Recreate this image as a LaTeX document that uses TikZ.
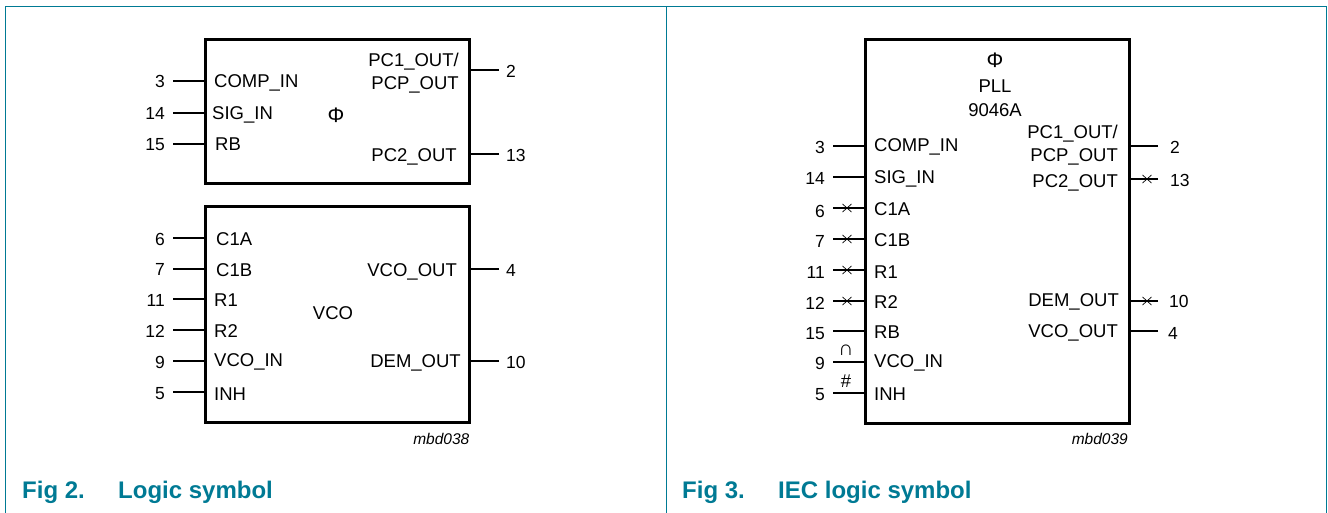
\documentclass[tikz,border=0pt]{standalone}
\usepackage{fontspec}
\setmainfont{Liberation Sans}
\usetikzlibrary{shapes.misc}
\definecolor{figteal}{RGB}{0,122,148}
\tikzset{
  chipbox/.style={draw=black, line width=3pt},
  wire/.style={draw=black, line width=1.2pt},
  framerule/.style={draw=figteal, line width=1.3pt},
  crossmark/.style={cross out, draw=black, line width=.7pt, minimum width=9pt, minimum height=8pt, inner sep=0pt, outer sep=0pt},
  pinnum/.style={font=\fontsize{17.5}{20}\selectfont, inner sep=0pt, text height=12.5pt, text depth=0pt},
  pinname/.style={font=\fontsize{18.5}{20}\selectfont, inner sep=0pt, text height=13pt, text depth=0pt},
  bigsym/.style={font=\fontsize{21}{22}\selectfont, inner sep=0pt},
  tagname/.style={font=\fontsize{15.5}{17}\selectfont\itshape, inner sep=0pt, anchor=east},
  captext/.style={font=\fontsize{24}{26}\selectfont\bfseries, text=figteal, inner sep=0pt, anchor=west, text height=16pt, text depth=0pt}
}
\begin{document}
\begin{tikzpicture}[x=1pt, y=-1pt]
    \useasboundingbox (0,0) rectangle (1328,513);

    % outer frame
    \coordinate (frameA) at (5.5,513);
    \coordinate (frameB) at (5.5,6.5);
    \coordinate (frameC) at (1326.5,6.5);
    \coordinate (frameD) at (1326.5,513);
    \coordinate (frameM) at (666.5,6.5);
    \coordinate (frameN) at (666.5,513);
    \draw[framerule] (frameA) -- (frameB) -- (frameC) -- (frameD);
    \draw[framerule] (frameM) -- (frameN);

    % logic symbol, phase comparator
    \node[chipbox, minimum width=264pt, minimum height=144pt, anchor=north west, outer sep=0pt] (pcbox) at (205,40) {};
    \coordinate (la3) at (173,81);
    \coordinate (la14) at (173,113);
    \coordinate (la15) at (173,144);
    \coordinate (ra2) at (499,70);
    \coordinate (ra13) at (499,154);
    \draw[wire] (la3) -- (la3 -| pcbox.west);
    \draw[wire] (la14) -- (la14 -| pcbox.west);
    \draw[wire] (la15) -- (la15 -| pcbox.west);
    \draw[wire] (ra2) -- (ra2 -| pcbox.east);
    \draw[wire] (ra13) -- (ra13 -| pcbox.east);
    \node[pinnum, anchor=east] (na3) at (165,81) {3};
    \node[pinnum, anchor=east] (na14) at (165,113) {14};
    \node[pinnum, anchor=east] (na15) at (165,144) {15};
    \node[pinnum, anchor=west] (na2) at (506,71) {2};
    \node[pinnum, anchor=west] (na13) at (506,155) {13};
    \node[pinname, anchor=west] (ta3) at (214,81) {COMP\_IN};
    \node[pinname, anchor=west] (ta14) at (212,113) {SIG\_IN};
    \node[pinname, anchor=west] (ta15) at (215,144) {RB};
    \node[pinname, anchor=east] (ta2) at (459,60) {PC1\_OUT/};
    \node[pinname, anchor=east] (tb2) at (459,83) {PCP\_OUT};
    \node[pinname, anchor=east] (ta13) at (457,155) {PC2\_OUT};
    \node[bigsym] (phiA) at (336,115) {Φ};

    % logic symbol, oscillator
    \node[chipbox, minimum width=264pt, minimum height=215.5pt, anchor=north west, outer sep=0pt] (vcobox) at (205,207) {};
    \coordinate (la6) at (173,238);
    \coordinate (la7) at (173,269);
    \coordinate (la11) at (173,299);
    \coordinate (la12) at (173,330);
    \coordinate (la9) at (173,361);
    \coordinate (la5) at (173,392);
    \coordinate (ra4) at (499,269);
    \coordinate (ra10) at (499,361);
    \draw[wire] (la6) -- (la6 -| vcobox.west);
    \draw[wire] (la7) -- (la7 -| vcobox.west);
    \draw[wire] (la11) -- (la11 -| vcobox.west);
    \draw[wire] (la12) -- (la12 -| vcobox.west);
    \draw[wire] (la9) -- (la9 -| vcobox.west);
    \draw[wire] (la5) -- (la5 -| vcobox.west);
    \draw[wire] (ra4) -- (ra4 -| vcobox.east);
    \draw[wire] (ra10) -- (ra10 -| vcobox.east);
    \node[pinnum, anchor=east] (na6) at (165,239) {6};
    \node[pinnum, anchor=east] (na7) at (165,269) {7};
    \node[pinnum, anchor=east] (na11) at (165,300) {11};
    \node[pinnum, anchor=east] (na12) at (165,331) {12};
    \node[pinnum, anchor=east] (na9) at (165,362) {9};
    \node[pinnum, anchor=east] (na5) at (165,393) {5};
    \node[pinnum, anchor=west] (na4) at (506,270) {4};
    \node[pinnum, anchor=west] (na10) at (506,362) {10};
    \node[pinname, anchor=west] (ta6) at (216,239) {C1A};
    \node[pinname, anchor=west] (ta7) at (216,270) {C1B};
    \node[pinname, anchor=west] (ta11) at (214,300) {R1};
    \node[pinname, anchor=west] (ta12) at (214,331) {R2};
    \node[pinname, anchor=west] (ta9) at (214,360) {VCO\_IN};
    \node[pinname, anchor=west] (ta5) at (214,394) {INH};
    \node[pinname, anchor=east] (ta4) at (457,270) {VCO\_OUT};
    \node[pinname, anchor=east] (ta10) at (461,361) {DEM\_OUT};
    \node[pinname] (vcoA) at (333,313) {VCO};
    \node[tagname] (tagA) at (469.5,439) {mbd038};
    \node[captext] (figA) at (22,490) {Fig 2.};
    \node[captext] (capA) at (118,490) {Logic symbol};

    % IEC symbol
    \node[chipbox, minimum width=264pt, minimum height=383pt, anchor=north west, outer sep=0pt] (iecbox) at (865,40) {};
    \coordinate (lb3) at (833,146);
    \coordinate (lb14) at (833,177);
    \coordinate (lb6) at (833,208);
    \coordinate (lb7) at (833,239);
    \coordinate (lb11) at (833,270);
    \coordinate (lb12) at (833,301);
    \coordinate (lb15) at (833,331);
    \coordinate (lb9) at (833,362);
    \coordinate (lb5) at (833,393);
    \coordinate (rb2) at (1158,146);
    \coordinate (rb13) at (1158,179);
    \coordinate (rb10) at (1158,301);
    \coordinate (rb4) at (1158,331);
    \draw[wire] (lb3) -- (lb3 -| iecbox.west);
    \draw[wire] (lb14) -- (lb14 -| iecbox.west);
    \draw[wire] (lb6) -- (lb6 -| iecbox.west);
    \draw[wire] (lb7) -- (lb7 -| iecbox.west);
    \draw[wire] (lb11) -- (lb11 -| iecbox.west);
    \draw[wire] (lb12) -- (lb12 -| iecbox.west);
    \draw[wire] (lb15) -- (lb15 -| iecbox.west);
    \draw[wire] (lb9) -- (lb9 -| iecbox.west);
    \draw[wire] (lb5) -- (lb5 -| iecbox.west);
    \draw[wire] (rb2) -- (rb2 -| iecbox.east);
    \draw[wire] (rb13) -- (rb13 -| iecbox.east);
    \draw[wire] (rb10) -- (rb10 -| iecbox.east);
    \draw[wire] (rb4) -- (rb4 -| iecbox.east);
    \node[crossmark] (xb6) at (847,208) {};
    \node[crossmark] (xb7) at (847,239) {};
    \node[crossmark] (xb11) at (847,270) {};
    \node[crossmark] (xb12) at (847,301) {};
    \node[crossmark] (xb13) at (1147,179) {};
    \node[crossmark] (xb10) at (1147,301) {};
    \node[bigsym] (capsym) at (846,350) {∩};
    \node[pinname] (hashsym) at (846,381) {\#};
    \node[pinnum, anchor=east] (nb3) at (825,147) {3};
    \node[pinnum, anchor=east] (nb14) at (825,178) {14};
    \node[pinnum, anchor=east] (nb6) at (825,211) {6};
    \node[pinnum, anchor=east] (nb7) at (825,241) {7};
    \node[pinnum, anchor=east] (nb11) at (825,272) {11};
    \node[pinnum, anchor=east] (nb12) at (825,303) {12};
    \node[pinnum, anchor=east] (nb15) at (825,333) {15};
    \node[pinnum, anchor=east] (nb9) at (825,363) {9};
    \node[pinnum, anchor=east] (nb5) at (825,394) {5};
    \node[pinnum, anchor=west] (nb2) at (1170,147) {2};
    \node[pinnum, anchor=west] (nb13) at (1170,180) {13};
    \node[pinnum, anchor=west] (nb10) at (1169,301) {10};
    \node[pinnum, anchor=west] (nb4) at (1168,333) {4};
    \node[pinname, anchor=west] (tb3) at (874,145) {COMP\_IN};
    \node[pinname, anchor=west] (tb14) at (874,177) {SIG\_IN};
    \node[pinname, anchor=west] (tb6) at (874,209) {C1A};
    \node[pinname, anchor=west] (tb7) at (874,240) {C1B};
    \node[pinname, anchor=west] (tb11) at (874,272) {R1};
    \node[pinname, anchor=west] (tb12) at (874,302) {R2};
    \node[pinname, anchor=west] (tb15) at (874,332) {RB};
    \node[pinname, anchor=west] (tb9) at (874,361) {VCO\_IN};
    \node[pinname, anchor=west] (tb5) at (874,394) {INH};
    \node[pinname, anchor=east] (tc2) at (1118,132) {PC1\_OUT/};
    \node[pinname, anchor=east] (td2) at (1118,155) {PCP\_OUT};
    \node[pinname, anchor=east] (tb13) at (1118,181) {PC2\_OUT};
    \node[pinname, anchor=east] (tb10) at (1119,300) {DEM\_OUT};
    \node[pinname, anchor=east] (tb4) at (1118,331) {VCO\_OUT};
    \node[bigsym] (phiB) at (995,60) {Φ};
    \node[pinname] (pllB) at (995,86) {PLL};
    \node[pinname] (idB) at (995,110) {9046A};
    \node[tagname] (tagB) at (1128,439) {mbd039};
    \node[captext] (figB) at (682,490) {Fig 3.};
    \node[captext] (capB) at (778,490) {IEC logic symbol};
\end{tikzpicture}
\end{document}
